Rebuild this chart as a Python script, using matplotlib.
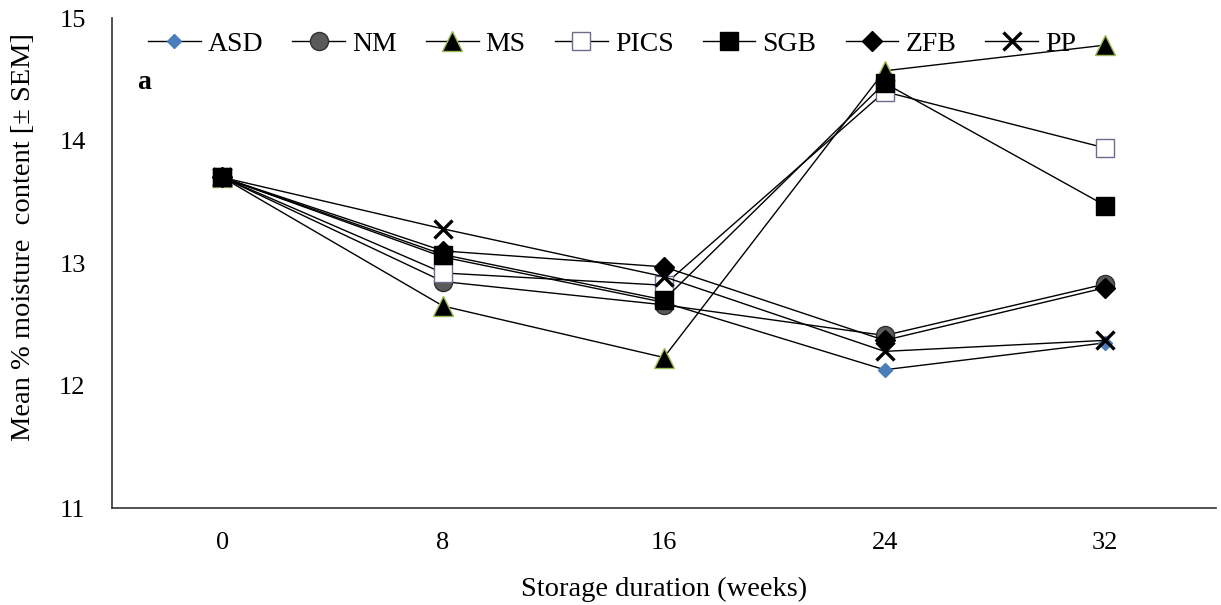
import matplotlib
matplotlib.use("Agg")
import matplotlib.pyplot as plt

plt.rcParams['font.family'] = ['Liberation Serif', 'DejaVu Serif']

weeks = ['0', '8', '16', '24', '32']

asd = [13.70, 13.05, 12.68, 12.13, 12.35]
nm = [13.70, 12.85, 12.66, 12.41, 12.83]
ms = [13.70, 12.65, 12.23, 14.57, 14.78]
pics = [13.70, 12.92, 12.82, 14.40, 13.94]
sgb = [13.70, 13.07, 12.70, 14.47, 13.47]
zfb = [13.70, 13.10, 12.97, 12.37, 12.80]
pp = [13.70, 13.28, 12.89, 12.28, 12.37]

x = range(len(weeks))

fig = plt.figure(figsize=(12.21, 6.05), dpi=100)
ax = fig.add_axes([0.0917, 0.160, 0.904, 0.810])

lw = 1.0
ax.plot(x, asd, color='black', lw=lw, marker='D', ms=7, mfc='#4a7ebb', mec='#4a7ebb', label='ASD', zorder=3)
ax.plot(x, nm, color='black', lw=lw, marker='o', ms=13, mfc='#5a5a5a', mec='#303030', label='NM', zorder=3)
ax.plot(x, ms, color='black', lw=lw, marker='^', ms=14, mfc='black', mec='#9bbb59', label='MS', zorder=3)
ax.plot(x, pics, color='black', lw=lw, marker='s', ms=13, mfc='white', mec='#6e6a8c', label='PICS', zorder=3)
ax.plot(x, sgb, color='black', lw=lw, marker='s', ms=13.5, mfc='black', mec='black', label='SGB', zorder=3)
ax.plot(x, zfb, color='black', lw=lw, marker='D', ms=10, mfc='black', mec='black', label='ZFB', zorder=3)
ax.plot(x, pp, color='black', lw=lw, marker='x', ms=13, mew=2.4, mec='black', label='PP', zorder=3)

ax.set_xlim(-0.5, 4.5)
ax.set_ylim(11, 15)
ax.set_xticks(list(x))
ax.set_xticklabels(weeks)
ax.set_yticks([11, 12, 13, 14, 15])
ax.tick_params(axis='x', length=0, labelsize=19, pad=17)
ax.tick_params(axis='y', length=0, labelsize=19, pad=19)
ax.spines['top'].set_visible(False)
ax.spines['right'].set_visible(False)
ax.spines['left'].set_color('#333333')
ax.spines['bottom'].set_color('#333333')
ax.spines['left'].set_linewidth(1.2)
ax.spines['bottom'].set_linewidth(1.2)

ax.set_xlabel('Storage duration (weeks)', fontsize=20.5)
ax.xaxis.set_label_coords(0.5, -0.140)
ax.set_ylabel('Mean % moisture  content [± SEM]', fontsize=20.5)
ax.yaxis.set_label_coords(-0.069, 0.553)

ax.text(0.023, 0.855, 'a', transform=ax.transAxes, fontsize=20, fontweight='bold')

ax.legend(loc='center left', bbox_to_anchor=(0.0326, 0.947), ncol=7, frameon=False,
          fontsize=20, handlelength=1.9, handletextpad=0.25, columnspacing=1.05,
          borderpad=0, borderaxespad=0)

fig.savefig('out.png', dpi=100)
